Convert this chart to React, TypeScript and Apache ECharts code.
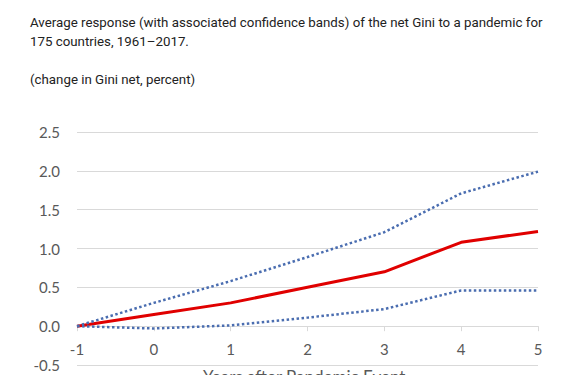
import React, { useEffect, useRef } from "react";
import * as echarts from "echarts";

const titleLines = [
  "Average response (with associated confidence bands) of the net Gini to a pandemic for",
  "175 countries, 1961\u20132017.",
];
const subtitle = "(change in Gini net, percent)";
const xAxisTitle = "Years after Pandemic Event";
const years = ["-1", "0", "1", "2", "3", "4", "5"];
const estimate = [0, 0.15, 0.3, 0.5, 0.7, 1.08, 1.22];
const upperBand = [0, 0.3, 0.58, 0.89, 1.21, 1.71, 1.99];
const lowerBand = [0, -0.03, 0.01, 0.11, 0.22, 0.46, 0.46];

export default function App() {
  const ref = useRef<HTMLDivElement>(null);
  useEffect(() => {
    document.body.style.margin = "0";
    const chart = echarts.init(ref.current!, null, { renderer: "svg" });
    const axisFont = "Lato, 'Open Sans', sans-serif";
    const titleFont = "13.3px Roboto, sans-serif";
    chart.setOption({
      animation: false,
      backgroundColor: "#ffffff",
      grid: {
        left: 77,
        right: 41,
        top: 132,
        bottom: 10,
        containLabel: false,
        outerBoundsMode: "none",
      },
      xAxis: {
        type: "category",
        data: years,
        boundaryGap: false,
        axisLine: { onZero: true, lineStyle: { color: "#d9d9d9", width: 1 } },
        axisTick: { show: true, length: 5, alignWithLabel: true, lineStyle: { color: "#d9d9d9" } },
        axisLabel: { color: "#595959", fontSize: 15, fontFamily: axisFont, margin: -24 },
        splitLine: { show: false },
      },
      yAxis: {
        type: "value",
        min: -0.5,
        max: 2.5,
        interval: 0.5,
        axisLine: { show: false },
        axisTick: { show: false },
        axisLabel: {
          color: "#595959",
          fontSize: 15,
          fontFamily: axisFont,
          margin: 17,
          formatter: (v: number) => v.toFixed(1),
        },
        splitLine: { lineStyle: { color: "#d9d9d9", width: 1 } },
      },
      series: [
        {
          name: "Estimate",
          type: "line",
          data: estimate,
          symbol: "none",
          lineStyle: { color: "#e00000", width: 3 },
          z: 2,
        },
        {
          name: "Upper",
          type: "line",
          data: upperBand,
          symbol: "none",
          lineStyle: { color: "#4a6db0", width: 2.5, type: [2.5, 2.5] },
          z: 3,
        },
        {
          name: "Lower",
          type: "line",
          data: lowerBand,
          symbol: "none",
          lineStyle: { color: "#4a6db0", width: 2.5, type: [2.5, 2.5] },
          z: 3,
        },
      ],
      graphic: [
        {
          type: "text",
          left: 30,
          top: 16,
          style: { text: titleLines[0], fill: "#222222", font: titleFont },
        },
        {
          type: "text",
          left: 30,
          top: 35,
          style: { text: titleLines[1], fill: "#222222", font: titleFont },
        },
        {
          type: "text",
          left: 30,
          top: 73,
          style: { text: subtitle, fill: "#222222", font: titleFont },
        },
        {
          type: "text",
          left: 203,
          top: 368,
          style: { text: xAxisTitle, fill: "#595959", font: "17px Lato, sans-serif" },
        },
      ],
    });
    return () => chart.dispose();
  }, []);
  return <div ref={ref} style={{ width: 579, height: 375 }} />;
}
